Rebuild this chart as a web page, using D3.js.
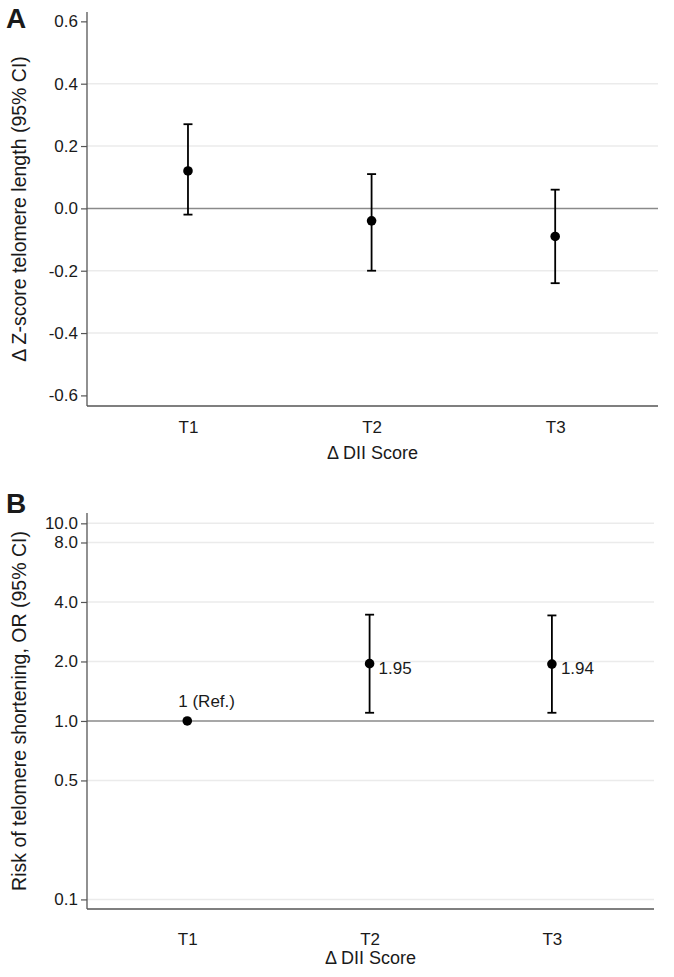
<!DOCTYPE html>
<html>
<head>
<meta charset="utf-8">
<script src="https://cdn.jsdelivr.net/npm/d3@7"></script>
<style>
  html, body { margin: 0; padding: 0; background: #fff; }
  svg { display: block; }
  text { font-family: "Liberation Sans", Arial, Helvetica, sans-serif; fill: #1a1a1a; }
</style>
</head>
<body>
<svg id="chart" width="674" height="977"></svg>
<script>
// ---- data ----
const categories = ["T1", "T2", "T3"];

// Panel A: change in Z-score telomere length (95% CI)
const zEstimate = [0.12, -0.04, -0.09];
const zLower    = [-0.02, -0.20, -0.24];
const zUpper    = [0.27, 0.11, 0.06];
const zTicks    = [-0.6, -0.4, -0.2, 0.0, 0.2, 0.4, 0.6];
const zTickLabels = ["-0.6", "-0.4", "-0.2", "0.0", "0.2", "0.4", "0.6"];

// Panel B: odds ratio of telomere shortening (95% CI)
const orEstimate = [1, 1.95, 1.94];
const orLower    = [null, 1.10, 1.10];
const orUpper    = [null, 3.45, 3.42];
const orLabels   = ["1 (Ref.)", "1.95", "1.94"];
const orTicks      = [0.125, 0.5, 1, 2, 4, 8, 10];
const orTickLabels = ["0.1", "0.5", "1.0", "2.0", "4.0", "8.0", "10.0"];

const xTitle = "\u0394 DII Score";
const yTitleA = "\u0394 Z-score telomere length (95% CI)";
const yTitleB = "Risk of telomere shortening, OR (95% CI)";

// ---- drawing ----
const svg = d3.select("#chart");
const FS = 17;
const axisColor = "#555";
const gridColor = "#ebebeb";
const refColor = "#8a8a8a";

function drawPanel(opts) {
  const g = svg.append("g");
  const {x0, x1, y0, y1, yScale, ticks, tickLabels, refValue, est, lo, hi, labels,
         yTitle, letter, letterY, xPad, xTitleOff} = opts;
  const xScale = d3.scaleLinear().domain([0.45, 3.56]).range([x0, x1]);

  // gridlines
  g.selectAll(".grid").data(ticks.filter(t => t !== refValue && opts.gridFilter(t)))
    .enter().append("line")
    .attr("x1", x0).attr("x2", x1)
    .attr("y1", d => yScale(d)).attr("y2", d => yScale(d))
    .attr("stroke", gridColor).attr("stroke-width", 1.5);

  // reference line
  g.append("line")
    .attr("x1", x0).attr("x2", x1)
    .attr("y1", yScale(refValue)).attr("y2", yScale(refValue))
    .attr("stroke", refColor).attr("stroke-width", 1.5);

  // y axis
  const yAxis = d3.axisLeft(yScale).tickValues(ticks).tickSize(6).tickPadding(3)
    .tickFormat((d, i) => tickLabels[i]);
  const ya = g.append("g").attr("transform", `translate(${x0},0)`).call(yAxis);
  ya.select(".domain").attr("stroke", axisColor).attr("stroke-width", 1.3)
    .attr("d", `M0,${y1}V${y0}`);
  ya.selectAll(".tick line").attr("stroke", axisColor).attr("stroke-width", 1.2);
  ya.selectAll(".tick text").attr("font-size", FS).attr("fill", "#111")
    .attr("font-family", "Liberation Sans, Arial, sans-serif");

  // x axis
  const xAxis = d3.axisBottom(xScale).tickValues([1, 2, 3]).tickSize(0).tickPadding(xPad)
    .tickFormat((d, i) => categories[i]);
  const xa = g.append("g").attr("transform", `translate(0,${y1})`).call(xAxis);
  xa.select(".domain").attr("stroke", axisColor).attr("stroke-width", 1.3)
    .attr("d", `M${x0},0H${x1}`);
  xa.selectAll(".tick text").attr("font-size", FS).attr("fill", "#111")
    .attr("font-family", "Liberation Sans, Arial, sans-serif");

  // axis titles
  g.append("text").attr("x", (x0 + x1) / 2 + 0).attr("y", y1 + xTitleOff)
    .attr("text-anchor", "middle").attr("font-size", 18).attr("fill", "#111").text(xTitle);
  g.append("text")
    .attr("transform", `translate(26,${(y0 + y1) / 2}) rotate(-90)`)
    .attr("text-anchor", "middle").attr("font-size", 19.5).attr("fill", "#111").text(yTitle);

  // panel letter
  g.append("text").attr("x", 6).attr("y", letterY)
    .attr("font-size", 28).attr("font-weight", "bold").attr("fill", "#000").text(letter);

  // error bars
  const idx = categories.map((c, i) => i);
  const bars = idx.filter(i => lo[i] != null && hi[i] != null);
  g.selectAll(".eb").data(bars).enter().append("line")
    .attr("x1", i => xScale(i + 1)).attr("x2", i => xScale(i + 1))
    .attr("y1", i => yScale(lo[i])).attr("y2", i => yScale(hi[i]))
    .attr("stroke", "#000").attr("stroke-width", 1.8);
  [lo, hi].forEach(arr => {
    g.selectAll(null).data(bars).enter().append("line")
      .attr("x1", i => xScale(i + 1) - 4.5).attr("x2", i => xScale(i + 1) + 4.5)
      .attr("y1", i => yScale(arr[i])).attr("y2", i => yScale(arr[i]))
      .attr("stroke", "#000").attr("stroke-width", 1.8);
  });

  // points
  g.selectAll(".pt").data(idx).enter().append("circle")
    .attr("cx", i => xScale(i + 1)).attr("cy", i => yScale(est[i]))
    .attr("r", 4.8).attr("fill", "#000");

  // labels
  if (labels) {
    idx.forEach(i => {
      if (i === 0) {
        g.append("text").attr("x", xScale(i + 1) - 9).attr("y", yScale(est[i]) - 14)
          .attr("font-size", FS).attr("fill", "#111").text(labels[i]);
      } else {
        g.append("text").attr("x", xScale(i + 1) + 9).attr("y", yScale(est[i]) + 10)
          .attr("font-size", FS).attr("fill", "#111").text(labels[i]);
      }
    });
  }
}

// Panel A
const yA = d3.scaleLinear().domain([-0.634, 0.63]).range([406, 12]);
drawPanel({
  x0: 87, x1: 658, y0: 12, y1: 406, yScale: yA,
  ticks: zTicks, tickLabels: zTickLabels,
  refValue: 0, est: zEstimate, lo: zLower, hi: zUpper, labels: null,
  yTitle: yTitleA, letter: "A", letterY: 28, xPad: 15, xTitleOff: 53,
  gridFilter: t => Math.abs(t) < 0.55
});

// Panel B (log2 scale)
const yB = d3.scaleLog().base(2).domain([0.1118, 11.28]).range([909, 513]);
drawPanel({
  x0: 87, x1: 654, y0: 513, y1: 909, yScale: yB,
  ticks: orTicks, tickLabels: orTickLabels,
  refValue: 1, est: orEstimate, lo: orLower, hi: orUpper, labels: orLabels,
  yTitle: yTitleB, letter: "B", letterY: 513, xPad: 24, xTitleOff: 55,
  gridFilter: t => true
});
</script>
</body>
</html>
